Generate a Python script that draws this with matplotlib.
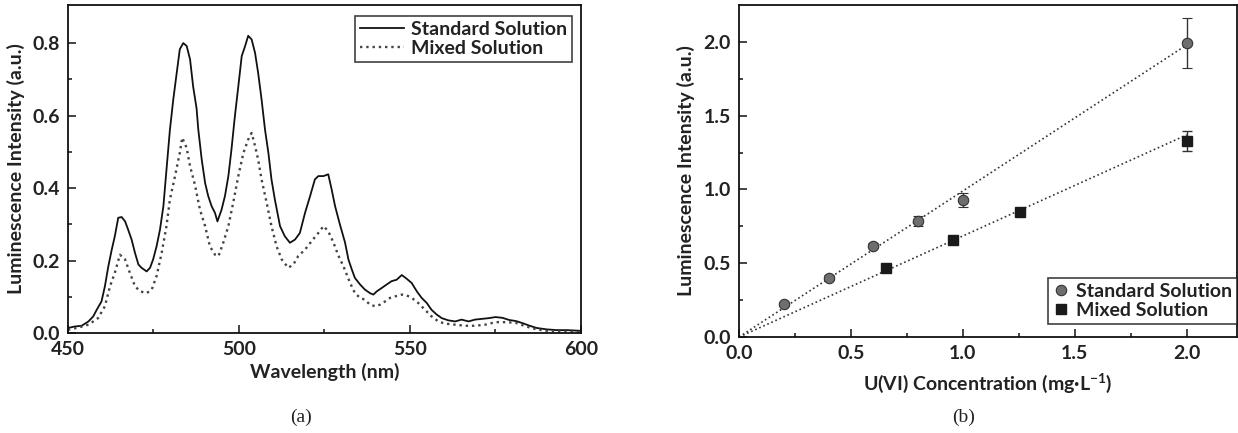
import matplotlib.pyplot as plt
import numpy as np

plt.rcParams['font.family'] = ['Lato', 'DejaVu Sans']
plt.rcParams['font.weight'] = 'bold'
plt.rcParams['axes.labelweight'] = 'bold'
plt.rcParams['mathtext.default'] = 'regular'

# emission spectra (wavelength in nm, intensity in a.u.)
wl_std = [450.0, 452.0, 454.0, 456.0, 457.4, 458.4, 459.8, 460.8, 461.8, 462.8,
          463.7, 464.7, 465.7, 466.7, 467.6, 468.6, 469.6, 470.6, 471.5, 473.0,
          474.0, 474.9, 475.9, 476.9, 477.9, 478.8, 479.8, 480.8, 481.8, 482.7,
          483.7, 484.7, 485.7, 486.6, 487.6, 488.1, 489.1, 490.1, 491.0, 492.0,
          493.0, 493.7, 494.9, 495.9, 496.9, 497.8, 498.8, 499.8, 500.8, 501.8,
          502.7, 503.7, 504.7, 505.6, 506.6, 507.6, 508.6, 509.5, 510.5, 512.0,
          513.4, 514.9, 516.4, 517.8, 519.3, 520.8, 522.2, 523.2, 524.7, 526.1,
          527.1, 528.1, 529.5, 531.0, 532.0, 533.0, 533.9, 535.4, 536.8, 538.3,
          539.3, 540.3, 541.7, 543.2, 544.6, 546.1, 547.6, 549.0, 550.5, 552.0,
          553.4, 554.9, 556.3, 557.8, 559.3, 561.2, 563.2, 565.1, 567.1, 569.0,
          571.0, 573.0, 575.0, 577.0, 579.0, 581.0, 583.0, 585.0, 587.0, 590.0,
          593.0, 596.0, 600.0]
int_std = [0.014, 0.018, 0.020, 0.032, 0.046, 0.064, 0.087, 0.129, 0.184, 0.230,
           0.267, 0.318, 0.320, 0.308, 0.285, 0.258, 0.221, 0.189, 0.180, 0.170,
           0.180, 0.203, 0.239, 0.285, 0.350, 0.450, 0.560, 0.645, 0.718, 0.783,
           0.800, 0.792, 0.755, 0.680, 0.620, 0.562, 0.479, 0.414, 0.378, 0.350,
           0.331, 0.308, 0.340, 0.378, 0.433, 0.506, 0.598, 0.680, 0.764, 0.792,
           0.820, 0.810, 0.773, 0.718, 0.645, 0.562, 0.497, 0.424, 0.368, 0.295,
           0.267, 0.249, 0.258, 0.276, 0.331, 0.378, 0.424, 0.433, 0.433, 0.438,
           0.396, 0.350, 0.300, 0.250, 0.203, 0.175, 0.152, 0.134, 0.120, 0.110,
           0.106, 0.115, 0.124, 0.134, 0.143, 0.147, 0.160, 0.150, 0.138, 0.115,
           0.097, 0.083, 0.064, 0.051, 0.041, 0.035, 0.032, 0.037, 0.032, 0.037,
           0.039, 0.041, 0.044, 0.042, 0.036, 0.033, 0.027, 0.020, 0.014, 0.010,
           0.008, 0.008, 0.006]

wl_mix = [450.0, 453.0, 456.0, 458.8, 460.8, 462.3, 463.7, 465.2, 466.7, 468.1,
          469.6, 471.1, 473.0, 474.5, 475.9, 477.4, 478.8, 479.8, 481.3, 482.7,
          483.4, 484.7, 485.7, 487.1, 488.6, 490.1, 491.5, 493.0, 494.0, 495.4,
          496.9, 498.3, 499.8, 501.3, 502.7, 503.7, 504.7, 505.6, 506.6, 508.1,
          509.5, 511.0, 512.5, 514.4, 515.9, 517.3, 519.3, 521.2, 523.2, 524.7,
          526.1, 527.6, 529.0, 530.5, 532.5, 533.9, 535.4, 536.8, 538.3, 539.8,
          541.2, 542.7, 544.2, 545.6, 547.6, 549.0, 550.5, 552.4, 554.4, 556.3,
          558.3, 560.2, 563.2, 566.1, 569.0, 572.0, 575.0, 578.0, 581.0, 584.0,
          587.0, 590.0, 595.0, 600.0]
int_mix = [0.009, 0.015, 0.023, 0.041, 0.074, 0.129, 0.166, 0.216, 0.203, 0.166,
           0.129, 0.115, 0.110, 0.120, 0.157, 0.221, 0.295, 0.368, 0.433, 0.497,
           0.539, 0.511, 0.460, 0.410, 0.340, 0.295, 0.239, 0.216, 0.212, 0.249,
           0.295, 0.359, 0.433, 0.497, 0.534, 0.552, 0.516, 0.479, 0.424, 0.359,
           0.295, 0.239, 0.203, 0.180, 0.189, 0.212, 0.230, 0.253, 0.276, 0.295,
           0.281, 0.250, 0.215, 0.185, 0.138, 0.110, 0.097, 0.092, 0.078, 0.074,
           0.078, 0.087, 0.097, 0.101, 0.106, 0.104, 0.097, 0.083, 0.064, 0.046,
           0.032, 0.026, 0.023, 0.020, 0.020, 0.023, 0.030, 0.030, 0.028, 0.018,
           0.010, 0.006, 0.004, 0.003]

# calibration points, mg/L vs a.u.
conc_std = [0.2, 0.4, 0.6, 0.8, 1.0, 2.0]
lum_std = [0.222, 0.403, 0.620, 0.787, 0.927, 1.993]
err_std = [0.012, 0.020, 0.015, 0.035, 0.048, 0.170]

conc_mix = [0.655, 0.955, 1.255, 2.0]
lum_mix = [0.468, 0.656, 0.845, 1.329]
err_mix = [0.0, 0.0, 0.0, 0.070]

# slopes of the linear fits through the origin
slope_std = 0.99
slope_mix = 0.685

text_c = '#222222'
fs = 14

fig = plt.figure(figsize=(12.38, 4.33), dpi=100)
ax1 = fig.add_axes([0.0549, 0.2309, 0.4144, 0.7575])
ax2 = fig.add_axes([0.597, 0.2217, 0.4023, 0.7667])

ax1.plot(wl_std, int_std, color='#111111', lw=1.3, label='Standard Solution')
ax1.plot(wl_mix, int_mix, color='#444444', lw=1.7, ls=':', label='Mixed Solution')
ax1.set_xlim(450, 600)
ax1.set_ylim(0, 0.905)
ax1.set_xticks([450, 500, 550, 600])
ax1.set_xticks([475, 525, 575], minor=True)
ax1.set_yticks([0.0, 0.2, 0.4, 0.6, 0.8])
ax1.set_yticks([0.1, 0.3, 0.5, 0.7], minor=True)
ax1.set_xlabel('Wavelength (nm)', fontsize=fs, fontweight='bold', color=text_c, labelpad=3)
ax1.set_ylabel('Luminescence Intensity (a.u.)', fontsize=fs, fontweight='bold',
               color=text_c, labelpad=5)
leg1 = ax1.legend(loc='upper right', bbox_to_anchor=(0.983, 0.967), borderaxespad=0,
                  prop={'size': fs, 'weight': 'bold'}, frameon=True, fancybox=False,
                  edgecolor='#111111', handlelength=2.3, handletextpad=0.35,
                  borderpad=0.25, labelspacing=0.1)
leg1.get_frame().set_linewidth(1.2)

x_fit = np.array([0.0, 2.0])
ax2.plot(x_fit, slope_std * x_fit, color='#333333', lw=1.2, ls=':')
ax2.plot(x_fit, slope_mix * x_fit, color='#333333', lw=1.2, ls=':')
ax2.errorbar(conc_std, lum_std, yerr=err_std, fmt='o', ms=7.5, mfc='#6e6e6e',
             mec='#333333', mew=0.8, ecolor='#333333', elinewidth=1, capsize=3.5,
             label='Standard Solution', zorder=3)
ax2.errorbar(conc_mix, lum_mix, yerr=err_mix, fmt='s', ms=6.5, mfc='#1a1a1a',
             mec='#1a1a1a', ecolor='#333333', elinewidth=1, capsize=3.5,
             label='Mixed Solution', zorder=3)
ax2.set_xlim(0, 2.225)
ax2.set_ylim(0, 2.25)
ax2.set_xticks([0.0, 0.5, 1.0, 1.5, 2.0])
ax2.set_xticks([0.25, 0.75, 1.25, 1.75], minor=True)
ax2.set_yticks([0.0, 0.5, 1.0, 1.5, 2.0])
ax2.set_yticks([0.25, 0.75, 1.25, 1.75], minor=True)
ax2.set_xlabel('U(VI) Concentration (mg·L$^{-1}$)', fontsize=fs, fontweight='bold',
               color=text_c, labelpad=7)
ax2.set_ylabel('Luminescence Intensity (a.u.)', fontsize=fs, fontweight='bold',
               color=text_c, labelpad=6)
handles, labels = ax2.get_legend_handles_labels()
handles = [h[0] for h in handles]
leg2 = ax2.legend(handles, labels, loc='lower right', bbox_to_anchor=(1.0, 0.04),
                  borderaxespad=0, prop={'size': fs, 'weight': 'bold'}, frameon=True,
                  fancybox=False, edgecolor='#111111', handlelength=0.8,
                  handletextpad=0.4, borderpad=0.25, labelspacing=0.1)
leg2.get_frame().set_linewidth(1.2)

for ax in (ax1, ax2):
    for s in ax.spines.values():
        s.set_linewidth(1.3)
        s.set_color('#111111')
    ax.tick_params(which='both', direction='in', top=False, right=False,
                   labelsize=fs, labelcolor=text_c, width=1.1, color='#111111')
    ax.tick_params(which='major', length=6, pad=6)
    ax.tick_params(which='minor', length=3)
    for lab in ax.get_xticklabels() + ax.get_yticklabels():
        lab.set_fontweight('bold')
    for t in ax.get_legend().get_texts():
        t.set_color(text_c)

fig.text(0.243, 0.025, '(a)', fontsize=14, family='Liberation Serif',
         fontweight='normal', ha='center', color=text_c)
fig.text(0.778, 0.025, '(b)', fontsize=14, family='Liberation Serif',
         fontweight='normal', ha='center', color=text_c)

fig.savefig('out.png', dpi=100)
